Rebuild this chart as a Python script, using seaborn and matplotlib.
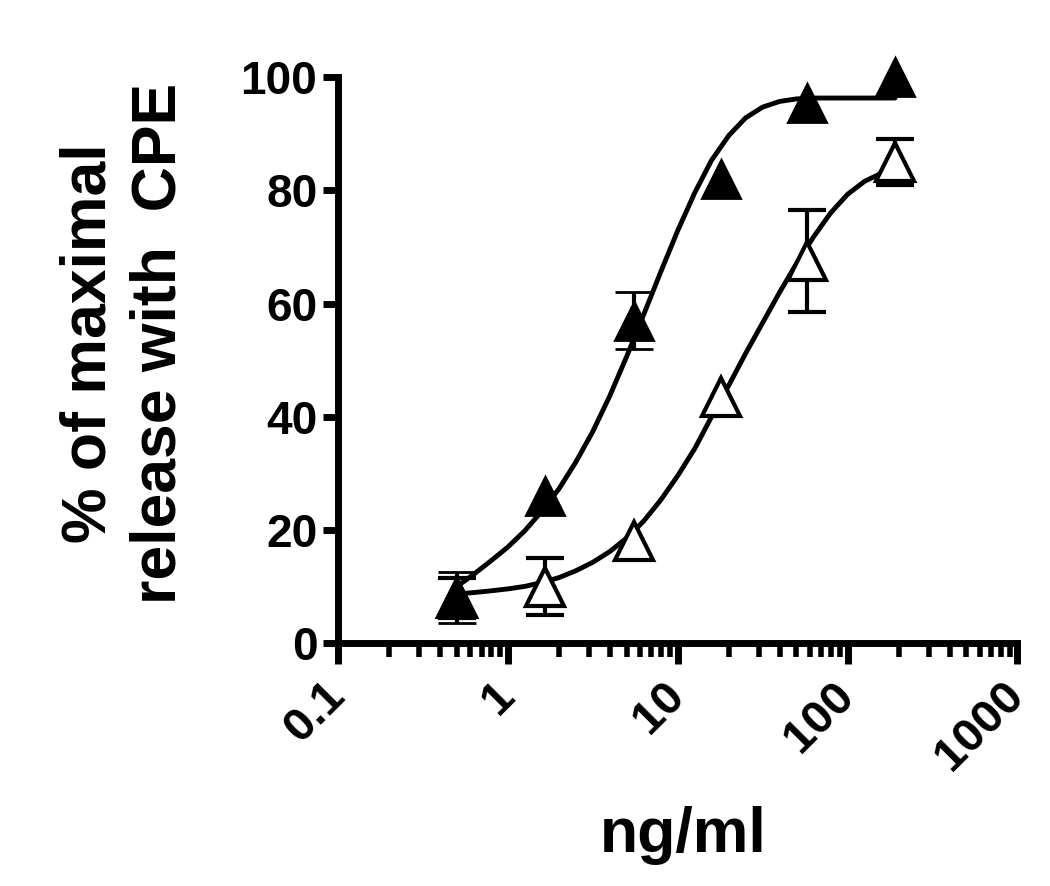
import matplotlib
matplotlib.use('Agg')
from matplotlib import pyplot as plt
import seaborn as sns

nan = float('nan')

# concentrations (ng/ml), same for both series
dose = [0.5, 1.65, 5.5, 18, 58, 190]

# filled triangles: mean and error (nan = bar hidden inside the symbol)
filled_mean = [8, 26, 57, 82, 95.5, 100]
filled_err = [4.5, nan, 5, nan, nan, nan]

# open triangles: mean and error
open_mean = [8, 10, 18, 43.5, 67.5, 85]
open_err = [3.5, 5, nan, nan, 9, 4]

# fitted curves, points
filled_curve_x = [0.5, 0.63, 0.79, 1.0, 1.26, 1.58, 2.0, 2.51, 3.16, 3.98, 5.01, 6.31,
                  7.94, 10, 12.6, 15.8, 20, 25.1, 31.6, 39.8, 50.1, 63.1, 190]
filled_curve_y = [10, 12.2, 14.5, 17.0, 19.9, 23.3, 27.3, 32.0, 37.4, 43.7, 50.7, 58.1,
                  65.6, 72.9, 79.6, 85.3, 89.7, 92.8, 94.7, 95.7, 96.15, 96.3, 96.3]
open_curve_x = [0.5, 0.63, 0.79, 1.0, 1.26, 1.58, 2.0, 2.51, 3.16, 3.98, 5.01, 6.31,
                7.94, 10, 12.6, 15.8, 20, 25.1, 31.6, 39.8, 50.1, 63.1, 79.4, 100,
                126, 158, 190]
open_curve_y = [8.7, 8.95, 9.25, 9.6, 10.05, 10.7, 11.6, 12.8, 14.3, 16.2, 18.6, 21.6,
                25.3, 29.6, 34.4, 40.0, 45.6, 51.2, 56.6, 62.0, 67.1, 71.8, 76.0, 79.3,
                81.6, 83.0, 83.6]

xticks = [0.1, 1, 10, 100, 1000]
xtick_labels = ['0.1', '1', '10', '100', '1000']
yticks = [0, 20, 40, 60, 80, 100]

sns.set_style('ticks', {'axes.edgecolor': 'black', 'text.color': 'black',
                        'xtick.color': 'black', 'ytick.color': 'black',
                        'axes.labelcolor': 'black'})
plt.rcParams['font.family'] = ['Liberation Sans', 'DejaVu Sans']
plt.rcParams['font.weight'] = 'bold'

fig = plt.figure(figsize=(10.5, 8.86), dpi=100)
ax = fig.add_axes([0.322, 0.274, 0.647, 0.639])

# curves
sns.lineplot(x=filled_curve_x, y=filled_curve_y, ax=ax, color='black', lw=3.5,
             sort=False, estimator=None, zorder=2)
sns.lineplot(x=open_curve_x, y=open_curve_y, ax=ax, color='black', lw=3.5,
             sort=False, estimator=None, zorder=2)

# points with error bars
ax.errorbar(dose, open_mean, yerr=open_err, fmt='^', ms=28, mfc='white', mec='black',
            mew=3, ecolor='black', elinewidth=3, capsize=14, capthick=3.5,
            clip_on=False, zorder=3)
ax.errorbar(dose, filled_mean, yerr=filled_err, fmt='^', ms=28, mfc='black', mec='black',
            mew=2, ecolor='black', elinewidth=3, capsize=14, capthick=3.5,
            clip_on=False, zorder=4)

ax.set_xscale('log')
ax.set_xlim(0.1, 1000)
ax.set_ylim(0, 100)
ax.set_xticks(xticks)
ax.set_xticklabels(xtick_labels, rotation=45, ha='right', va='center',
                   rotation_mode='anchor', fontsize=34, fontweight='bold')
ax.set_yticks(yticks)
ax.set_yticklabels([str(v) for v in yticks], fontsize=33, fontweight='bold')

for s in ['top', 'right']:
    ax.spines[s].set_visible(False)
for s in ['left', 'bottom']:
    ax.spines[s].set_linewidth(5)

ax.tick_params(axis='y', which='major', length=11, width=5, pad=4)
ax.tick_params(axis='x', which='major', length=15, width=5, pad=18)
ax.tick_params(axis='x', which='minor', length=10, width=4)

ax.set_xlabel('ng/ml', fontsize=45, fontweight='bold')
ax.xaxis.set_label_coords(0.508, -0.34)
ax.xaxis.label.set_va('center')

ax.set_ylabel('% of maximal\nrelease with  CPE', fontsize=45, fontweight='bold',
              linespacing=1.25)
ax.yaxis.set_label_coords(-0.315, 0.53)
ax.yaxis.label.set_va('center')

plt.savefig('out.png', dpi=100)
